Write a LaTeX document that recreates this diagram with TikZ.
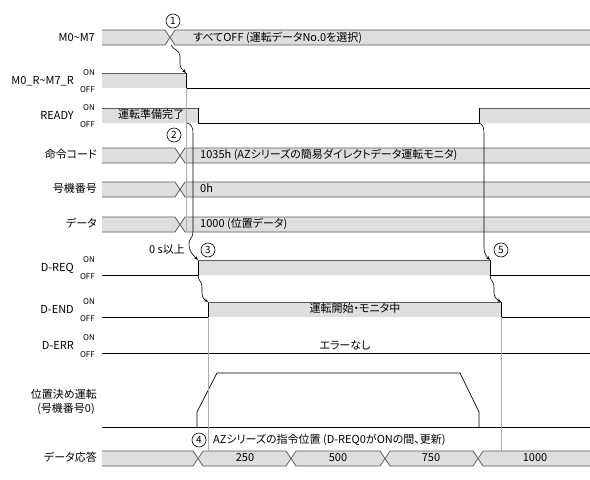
\documentclass[tikz,border=0pt]{standalone}
\usepackage{fontspec}
\setmainfont{Noto Sans CJK JP}[RawFeature=+palt]
\usetikzlibrary{arrows.meta}
\definecolor{barfill}{gray}{0.87}
\definecolor{baredge}{gray}{0.35}
\definecolor{guidegray}{gray}{0.68}
\tikzset{
  busedge/.style={draw=baredge, line width=0.7pt},
  lvl/.style={draw=black, line width=0.7pt},
  lab/.style={anchor=east, inner sep=0pt, font=\fontsize{11}{13}\selectfont, text height=8pt, text depth=1.5pt},
  onoff/.style={anchor=east, inner sep=0pt, font=\fontsize{8}{9}\selectfont, text height=6pt, text depth=0pt},
  intext/.style={inner sep=0pt, font=\fontsize{11}{13}\selectfont, text height=8pt, text depth=1.5pt},
  numc/.style={circle, draw, line width=0.6pt, minimum size=14pt, inner sep=0pt, font=\fontsize{10}{11}\selectfont},
  guide/.style={draw=guidegray, line width=0.5pt},
  cause/.style={draw=black, line width=0.6pt, -{Stealth[length=4pt,width=3pt]}},
  prof/.style={draw=black, line width=0.7pt},
}
\newcommand\busseg[4]{%
  \fill[barfill] (#1+5,#3) -- (#2-5,#3) -- (#2,{(#3+#4)/2}) -- (#2-5,#4) -- (#1+5,#4) -- (#1,{(#3+#4)/2}) -- cycle;
  \draw[busedge] (#1,{(#3+#4)/2}) -- (#1+5,#3) -- (#2-5,#3) -- (#2,{(#3+#4)/2});
  \draw[busedge] (#1,{(#3+#4)/2}) -- (#1+5,#4) -- (#2-5,#4) -- (#2,{(#3+#4)/2});
}
\begin{document}
\begin{tikzpicture}[x=1pt,y=-1pt]
\useasboundingbox[fill=white] (0,0) rectangle (590,480);

% ---------- bus signals ----------
\begin{scope}
\clip (102,0) rectangle (590,480);
\busseg{80}{170}{30}{45}\busseg{170}{610}{30}{45}
\busseg{80}{180}{148}{163}\busseg{180}{610}{148}{163}
\busseg{80}{180}{182}{197}\busseg{180}{610}{182}{197}
\busseg{80}{180}{217}{232}\busseg{180}{610}{217}{232}
\busseg{80}{198}{451}{466}\busseg{198}{291}{451}{466}\busseg{291}{385}{451}{466}\busseg{385}{478}{451}{466}\busseg{478}{610}{451}{466}
\end{scope}

% ---------- level signals ----------
% M0_R~M7_R
\fill[barfill] (102,73) rectangle (186,88);
\draw[busedge] (102,73) -- (186,73);
\draw[lvl] (186,73) coordinate (mrTop) -- (186,88) coordinate (mrBot) -- (590,88);
% READY
\fill[barfill] (102,108) rectangle (198,123);
\fill[barfill] (479,108) rectangle (590,123);
\draw[busedge] (102,108) -- (198,108);
\draw[busedge] (479,108) -- (590,108);
\draw[lvl] (198,108) -- (198,123) -- (479,123) coordinate (rdyRise) -- (479,108);
\coordinate (rdyStart) at (187,123);
% D-REQ
\fill[barfill] (198,260) rectangle (490,275);
\draw[lvl] (102,275) -- (198,275) coordinate (reqRiseBot) -- (198,260) coordinate (reqRiseTop);
\draw[busedge] (198,260) -- (490,260);
\draw[lvl] (490,260) coordinate (reqFallTop) -- (490,275) coordinate (reqFallBot) -- (590,275);
% D-END
\fill[barfill] (208,302) rectangle (501,317);
\draw[lvl] (102,317) -- (208,317) coordinate (endRiseBot) -- (208,302) coordinate (endRiseTop);
\draw[busedge] (208,302) -- (501,302);
\draw[lvl] (501,302) coordinate (endFallTop) -- (501,317) coordinate (endFallBot) -- (590,317);
% D-ERR
\draw[lvl] (102,353) -- (590,353);
% positioning profile
\draw[prof] (102,427) -- (590,427);
\draw[prof] (197,427) -- (197,412) -- (217,373) -- (460,373) -- (479,412) -- (479,427);

% ---------- guide lines ----------
\coordinate (gA) at (186,232);
\coordinate (gB) at (208,451);
\coordinate (gC) at (501,451);
\draw[guide] (mrBot) -- (gA);
\draw[guide] (endRiseBot) -- (gB);
\draw[guide] (endFallBot) -- (gC);

% ---------- cause arrows ----------
\coordinate (mCross) at (171,45);
\draw[cause] (mCross) .. controls (173,50) and (180,50) .. (180,56) -- (180,64) .. controls (180,68) and (183,70) .. (mrTop);
\draw[cause] (rdyStart) .. controls (192,124) and (193,128) .. (193,134) -- (193,232) .. controls (193,238) and (189,238) .. (189,244) .. controls (189,252) and (194,256) .. (reqRiseTop);
\draw[cause] (reqRiseBot) .. controls (198,281) and (202,281) .. (202,287) -- (202,293) .. controls (202,298) and (205,300) .. (endRiseTop);
\draw[cause] (rdyRise) .. controls (483,124) and (484,128) .. (484,134) -- (484,248) .. controls (484,254) and (487,257) .. (reqFallTop);
\draw[cause] (reqFallBot) .. controls (490,281) and (494,281) .. (494,287) -- (494,293) .. controls (494,298) and (498,300) .. (endFallTop);

% ---------- circled numbers ----------
\node[numc] (n1) at (173,21) {1};
\node[numc] (n2) at (174,135) {2};
\node[numc] (n3) at (208,250) {3};
\node[numc] (n4) at (199,440) {4};
\node[numc] (n5) at (501,250) {5};

% ---------- row labels ----------
\node[lab] (lM) at (95,38) {M0\textasciitilde M7};
\node[lab] (lMR) at (74,81) {M0\_R\textasciitilde M7\_R};
\node[onoff] (lMRon) at (95,72) {ON};
\node[onoff] (lMRoff) at (95,89) {OFF};
\node[lab] (lRDY) at (74,116) {READY};
\node[onoff] (lRDYon) at (95,107) {ON};
\node[onoff] (lRDYoff) at (95,124) {OFF};
\node[lab] (lCmd) at (97,155.5) {命令コード};
\node[lab] (lNo) at (97,189.5) {号機番号};
\node[lab] (lDat) at (97,224.5) {データ};
\node[lab] (lREQ) at (74,268) {D-REQ};
\node[onoff] (lREQon) at (95,259) {ON};
\node[onoff] (lREQoff) at (95,276) {OFF};
\node[lab] (lEND) at (74,310) {D-END};
\node[onoff] (lENDon) at (95,301) {ON};
\node[onoff] (lENDoff) at (95,318) {OFF};
\node[lab] (lERR) at (74,346) {D-ERR};
\node[onoff] (lERRon) at (95,337) {ON};
\node[onoff] (lERRoff) at (95,354) {OFF};
\node[lab] (lPos1) at (97,395) {位置決め運転};
\node[lab] (lPos2) at (95,409) {(号機番号0)};
\node[lab] (lResp) at (97,458.5) {データ応答};

% ---------- texts in the chart ----------
\node[intext, anchor=west] (tM) at (193,38) {すべてOFF (運転データNo.0を選択)};
\node[intext, anchor=west] (tRDY) at (118,115.5) {運転準備完了};
\node[intext, anchor=west] (tCmd) at (200,155.5) {1035h (AZシリーズの簡易ダイレクトデータ運転モニタ)};
\node[intext, anchor=west] (tNo) at (200,189.5) {0h};
\node[intext, anchor=west] (tDat) at (200,224.5) {1000 (位置データ)};
\node[intext, anchor=east] (t0s) at (185,250) {0 s以上};
\node[intext] (tEND) at (355,309.5) {運転開始・モニタ中};
\node[intext] (tERR) at (345,346) {エラーなし};
\node[intext, anchor=west] (tAZ) at (213,440) {AZシリーズの指令位置 (D-REQ0がONの間、更新)};
\node[intext] (v1) at (245,458.5) {250};
\node[intext] (v2) at (338,458.5) {500};
\node[intext] (v3) at (431,458.5) {750};
\node[intext] (v4) at (535,458.5) {1000};
\end{tikzpicture}
\end{document}
